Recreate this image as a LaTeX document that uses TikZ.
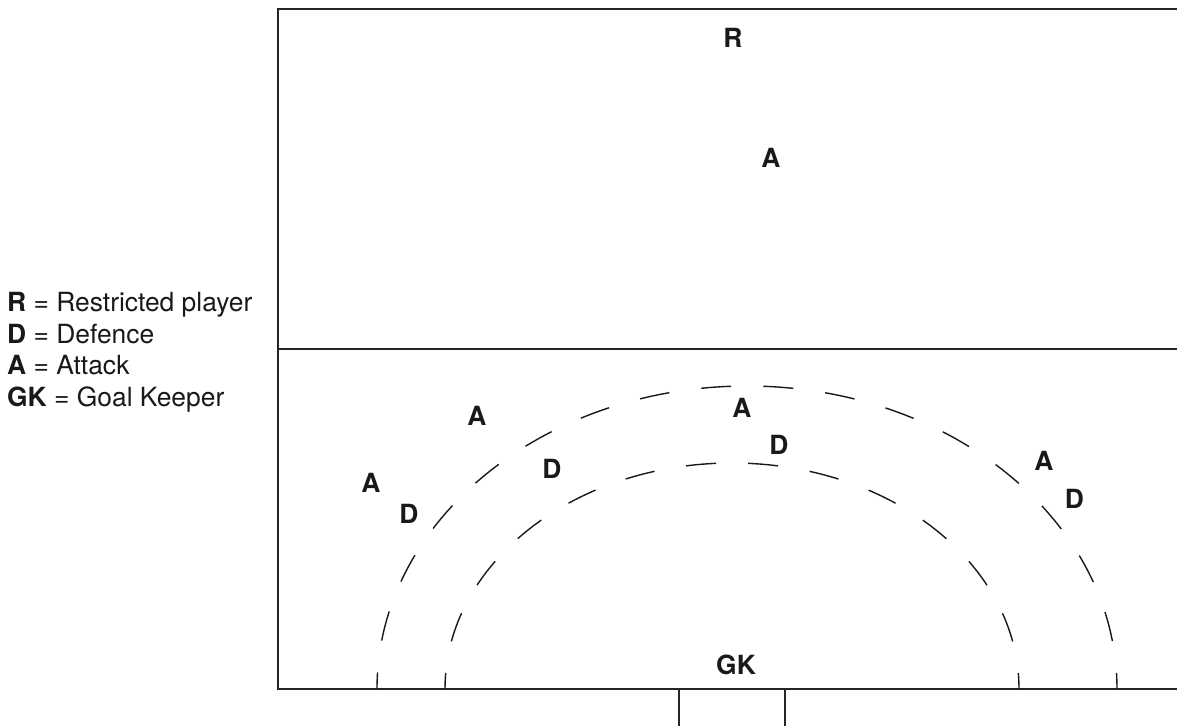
\documentclass[tikz,border=0pt]{standalone}
\usepackage{fontspec}
\setsansfont{TeX Gyre Heros}
\usetikzlibrary{positioning}
\tikzset{
  fieldline/.style={draw=black!85, line width=2pt},
  zone/.style={draw=black!90, line width=1.4pt, dash pattern=on 30pt off #1, dash phase=14pt},
  player/.style={font=\sffamily\bfseries\fontsize{26.4}{31.5}\selectfont, text=black!90, inner sep=0pt},
  legend/.style={font=\sffamily\fontsize{26.4}{31.5}\selectfont, text=black!90, inner sep=0pt, text height=23pt, text depth=8.5pt, anchor=north west}
}
\begin{document}
\begin{tikzpicture}[x=1pt, y=1pt]
\useasboundingbox (0,0) rectangle (1177,726);
% pitch
\draw[fieldline] (1177,717) -- (278,717) -- (278,37) -- (1177,37);
\draw[fieldline] (278,377) -- (1177,377);
% goal
\draw[fieldline] (679,37) -- (679,0);
\draw[fieldline] (785,37) -- (785,0);
% shooting zones
\draw[zone=32.2pt] (1117,37) arc[start angle=0, end angle=180, x radius=370, y radius=303];
\draw[zone=32.05pt] (1019,37) arc[start angle=0, end angle=180, x radius=287, y radius=226];
% players
\node[player] (r) at (733,688) {R};
\node[player] (a1) at (771,568) {A};
\node[player] (a2) at (742,318.5) {A};
\node[player] (d2) at (779,281) {D};
\node[player] (a3) at (477,310) {A};
\node[player] (d3) at (552,257.5) {D};
\node[player] (a4) at (371,243) {A};
\node[player] (d4) at (409,212.5) {D};
\node[player] (a5) at (1044,265.5) {A};
\node[player] (d5) at (1074.5,227.5) {D};
\node[player] (gk) at (736,61.5) {GK};
% key
\node[legend] (legR) at (7,438) {\textbf{R} = Restricted player};
\node[legend, below=0pt of legR.south west, anchor=north west] (legD) {\textbf{D} = Defence};
\node[legend, below=0pt of legD.south west, anchor=north west] (legA) {\textbf{A} = Attack};
\node[legend, below=0pt of legA.south west, anchor=north west] (legGK) {\textbf{GK} = Goal Keeper};
\end{tikzpicture}
\end{document}
